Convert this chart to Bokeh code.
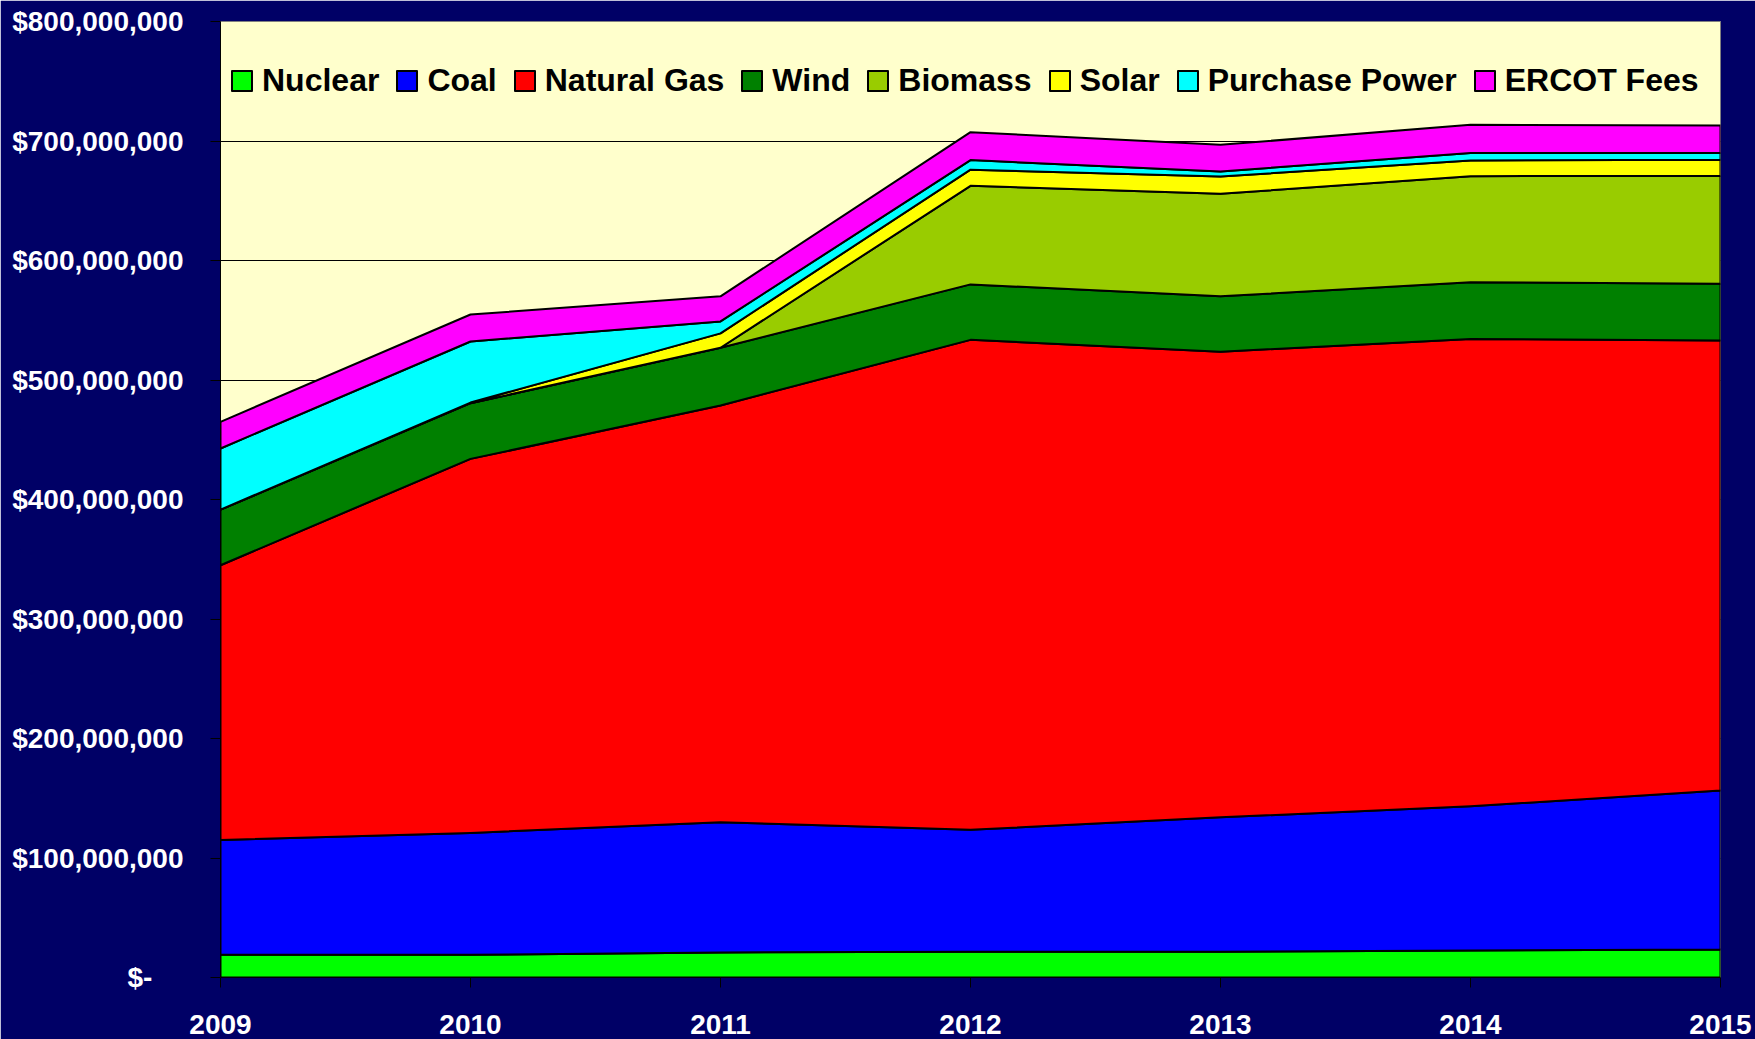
from bokeh.plotting import figure
from bokeh.models import Range1d, FixedTicker, NumeralTickFormatter, Legend, LegendItem
from bokeh.embed import file_html
from bokeh.resources import INLINE

# ---- data (values in millions of dollars) ----
years = [2009, 2010, 2011, 2012, 2013, 2014, 2015]
series_names = ["Nuclear", "Coal", "Natural Gas", "Wind", "Biomass",
                "Solar", "Purchase Power", "ERCOT Fees"]
nuclear = [19.0, 19.0, 21.0, 21.5, 21.5, 22.6, 23.4]
coal = [96.0, 102.0, 109.0, 102.1, 112.5, 120.7, 133.0]
natural_gas = [230.0, 313.0, 348.7, 410.0, 389.7, 391.1, 376.6]
wind = [46.5, 46.6, 48.3, 46.4, 46.3, 47.5, 47.5]
biomass = [0.0, 0.0, 0.0, 82.5, 85.8, 88.7, 90.3]
solar = [0.0, 0.5, 12.0, 13.5, 14.5, 13.1, 13.5]
purchase_power = [51.2, 51.1, 10.0, 8.0, 4.2, 6.3, 5.7]
ercot_fees = [22.3, 22.6, 21.0, 23.4, 22.3, 23.5, 23.0]
y_tick_values = [0, 100, 200, 300, 400, 500, 600, 700, 800]  # millions

colors = ["#00FF00", "#0000FF", "#FF0000", "#008000", "#99CC00",
          "#FFFF00", "#00FFFF", "#FF00FF"]
series = [nuclear, coal, natural_gas, wind, biomass, solar, purchase_power, ercot_fees]

FONT = "Liberation Sans"

p = figure(width=1755, height=1039, output_backend="svg", toolbar_location=None,
           x_range=Range1d(2009, 2015), y_range=Range1d(0, 800e6),
           min_border_left=220, min_border_right=35, min_border_top=21,
           min_border_bottom=62)
p.background_fill_color = "#FFFFCC"
p.border_fill_color = "#000066"
p.outline_line_color = "#808080"
p.outline_line_width = 1

# stacked areas as outlined patches
bottom = [0.0] * len(years)
renderers = []
for vals, col in zip(series, colors):
    top = [b + v * 1e6 for b, v in zip(bottom, vals)]
    xs = list(years) + list(reversed(years))
    ys = top + list(reversed(bottom))
    r = p.patch(xs, ys, fill_color=col, line_color="black", line_width=2,
                line_join="round")
    renderers.append(r)
    bottom = top

# grid
p.xgrid.visible = False
p.ygrid.grid_line_color = "black"
p.ygrid.grid_line_width = 1
p.ygrid.ticker = FixedTicker(ticks=[t * 1e6 for t in y_tick_values])

# axes
p.yaxis.ticker = FixedTicker(ticks=[t * 1e6 for t in y_tick_values])
p.yaxis.formatter = NumeralTickFormatter(format="$0,0")
p.yaxis.major_label_overrides = {0: "$-\u00a0\u00a0\u00a0\u00a0"}
p.xaxis.ticker = FixedTicker(ticks=years)
for ax in (p.xaxis, p.yaxis):
    ax.axis_line_color = "black"
    ax.axis_line_width = 1
    ax.major_tick_line_color = "black"
    ax.major_tick_out = 10
    ax.major_tick_in = 0
    ax.minor_tick_line_color = None
    ax.major_label_text_color = "white"
    ax.major_label_text_font = FONT
    ax.major_label_text_font_style = "bold"
    ax.major_label_text_font_size = "28px"
p.yaxis.major_label_standoff = 27
p.xaxis.major_label_standoff = 27

legend = Legend(
    items=[LegendItem(label=n, renderers=[r]) for n, r in zip(series_names, renderers)],
    orientation="horizontal", location=(9, 878),
    glyph_width=25, glyph_height=25, label_standoff=8, spacing=15,
    padding=0, margin=0, border_line_alpha=0, background_fill_alpha=0,
    label_text_font=FONT, label_text_font_style="bold",
    label_text_font_size="32px", label_text_color="black",
)
p.add_layout(legend)

open("out.html", "w").write(file_html(p, INLINE))
